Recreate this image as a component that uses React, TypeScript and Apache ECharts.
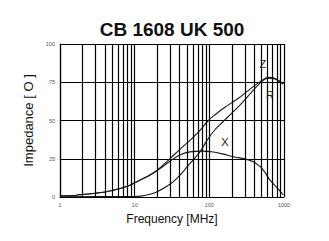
import React, { useEffect, useRef } from 'react';
import * as echarts from 'echarts';

const TITLE = 'CB 1608 UK 500';
const X_NAME = 'Frequency [MHz]';
const Y_NAME = 'Impedance [ O ]';

// Z curve (MHz, Ohm)
const zFreq = [1, 1.6, 1.75, 2, 3, 4, 5, 6, 8, 10, 15, 20, 30, 40, 55, 75, 97, 118, 160, 245, 320, 480, 620, 760, 980];
const zVal = [0.8, 0.9, 1.5, 1.6, 2.5, 3.3, 4.3, 5.2, 7, 9.3, 13.5, 17.5, 25.2, 31, 37, 43.5, 50, 53.6, 58.5, 64.5, 69, 75.4, 78.2, 77.5, 73.9];

// R curve
const rFreq = [1, 10, 12, 15, 20, 30, 40, 50, 75, 93, 118, 140, 245, 500, 620, 760, 980];
const rVal = [0.2, 0.3, 0.6, 1.5, 3.5, 8.5, 14, 19.5, 29.5, 37, 43.8, 47.5, 59, 75.4, 77.6, 77.2, 73.7];

// X curve
const xFreq = [1, 1.6, 1.75, 2, 3, 4, 5, 6, 8, 10, 15, 20, 30, 40, 55, 80, 107, 150, 210, 316, 390, 480, 560, 650, 800, 980];
const xVal = [0.8, 0.9, 1.5, 1.6, 2.5, 3.3, 4.3, 5.2, 7, 9.3, 13.5, 17.3, 23.5, 27.5, 29.5, 30, 29.6, 28.2, 26.3, 24.6, 23, 19.8, 15.9, 11, 6.3, 1.3];

// minor vertical grid lines
const minorGrid = [2, 3, 4, 5, 6, 7, 8, 9, 20, 30, 40, 50, 60, 70, 80, 90, 200, 300, 400, 500, 600, 700, 800, 900];

// curve label anchors [freq, value, text]
const curveLabels: [number, number, string][] = [
  [523, 86.9, 'Z'],
  [649, 66.5, 'R'],
  [162, 35.8, 'X'],
];

const FONT = '"Liberation Sans", Arial, sans-serif';

export default function App() {
  const ref = useRef<HTMLDivElement>(null);
  useEffect(() => {
    const chart = echarts.init(ref.current!, null, { renderer: 'svg' });
    const pair = (f: number[], v: number[]) => f.map((x, i) => [x, v[i]]);
    const lineStyle = { color: '#1a1a1a', width: 1.1 };
    chart.setOption({
      animation: false,
      backgroundColor: '#fff',
      graphic: [
        {
          type: 'text',
          x: 172,
          y: 29,
          style: {
            text: TITLE,
            fill: '#111',
            font: `bold 19px ${FONT}`,
            textAlign: 'center',
            textVerticalAlign: 'middle',
          },
        },
      ],
      grid: { left: 60, right: 45, top: 44, bottom: 44 },
      xAxis: {
        type: 'log',
        logBase: 10,
        min: 1,
        max: 1000,
        name: X_NAME,
        nameLocation: 'middle',
        nameGap: 13,
        nameTextStyle: { fontFamily: FONT, fontSize: 12, color: '#111' },
        axisLine: { show: true, lineStyle: { color: '#000', width: 1.2 } },
        axisTick: { show: false },
        axisLabel: {
          fontFamily: FONT,
          fontSize: 5.5,
          color: '#555',
          margin: 5,
          formatter: (v: number) => String(Math.round(v)),
        },
        splitLine: { show: true, lineStyle: { color: '#000', width: 1.2 } },
      },
      yAxis: {
        type: 'value',
        min: 0,
        max: 100,
        interval: 25,
        name: Y_NAME,
        nameLocation: 'middle',
        nameGap: 21,
        nameTextStyle: { fontFamily: FONT, fontSize: 13, color: '#111' },
        axisLine: { show: true, lineStyle: { color: '#000', width: 1.2 } },
        axisTick: { show: false },
        axisLabel: { fontFamily: FONT, fontSize: 5.5, color: '#555', margin: 5 },
        splitLine: { show: true, lineStyle: { color: '#000', width: 1.2 } },
      },
      series: [
        {
          name: 'Z',
          type: 'line',
          data: pair(zFreq, zVal),
          showSymbol: false,
          smooth: 0.3,
          lineStyle,
          markLine: {
            silent: true,
            symbol: 'none',
            label: { show: false },
            lineStyle: { color: '#000', width: 1.2, type: 'solid' },
            data: minorGrid.map((f) => ({ xAxis: f })),
          },
          markPoint: {
            silent: true,
            symbol: 'circle',
            symbolSize: 0,
            data: curveLabels.map(([f, v, t]) => ({
              coord: [f, v],
              label: {
                show: true,
                formatter: t,
                position: 'inside',
                fontFamily: FONT,
                fontSize: 11,
                color: '#222',
              },
            })),
          },
          z: 3,
        },
        {
          name: 'R',
          type: 'line',
          data: pair(rFreq, rVal),
          showSymbol: false,
          smooth: 0.3,
          lineStyle,
          z: 3,
        },
        {
          name: 'X',
          type: 'line',
          data: pair(xFreq, xVal),
          showSymbol: false,
          smooth: 0.3,
          lineStyle,
          z: 3,
        },
      ],
    });
    return () => chart.dispose();
  }, []);
  return <div ref={ref} style={{ width: 329, height: 241, position: 'absolute', left: 0, top: 0 }} />;
}
